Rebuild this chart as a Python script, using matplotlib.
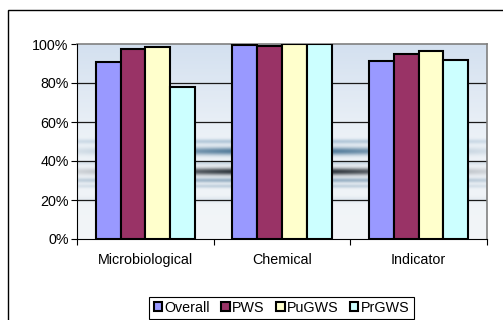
import numpy as np
import matplotlib
matplotlib.use("Agg")
import matplotlib.pyplot as plt
from matplotlib.patches import Patch, Rectangle

plt.rcParams['font.family'] = ['Liberation Sans', 'DejaVu Sans']

categories = ["Microbiological", "Chemical", "Indicator"]
series = ["Overall", "PWS", "PuGWS", "PrGWS"]
overall = [90.8, 99.5, 91.3]
pws = [97.6, 99.0, 94.9]
pugws = [98.5, 99.8, 96.6]
prgws = [77.9, 99.8, 92.0]
colors = ["#9999FF", "#993366", "#FFFFCC", "#CCFFFF"]
yticks = [0, 20, 40, 60, 80, 100]

fig = plt.figure(figsize=(5.03, 3.20), dpi=100)
fig.patch.set_facecolor("white")

# outer chart frame
fig.add_artist(Rectangle((8 / 503, -0.02), 1.1, 1 - 10 / 320 + 0.02,
                         transform=fig.transFigure, fill=False,
                         edgecolor="black", linewidth=1.0))

ax = fig.add_axes([77 / 503, 1 - 239 / 320, 410 / 503, 195 / 320])

# water-ripple backdrop for the plot area
H, W = 200, 420
yy, xx = np.mgrid[0:H, 0:W]
v = 1 - yy / (H - 1)          # 1 at top, 0 at bottom
u = xx / (W - 1)
base_top = np.array([0.83, 0.88, 0.94])
base_mid = np.array([0.93, 0.95, 0.97])
base_bot = np.array([0.95, 0.96, 0.97])
t = np.clip((v - 0.5) / 0.5, 0, 1)[..., None]
b = np.clip(v / 0.5, 0, 1)[..., None]
img = np.where(v[..., None] > 0.5,
               base_mid * (1 - t) + base_top * t,
               base_bot * (1 - b) + base_mid * b)
gx = np.exp(-((u - 0.5) / 0.36) ** 2)
gx2 = np.exp(-((u - 0.5) / 0.6) ** 2)


def band(center, width, strength, color, spread):
    global img
    a = strength * np.exp(-((v - center) / width) ** 2) * spread
    img = img * (1 - a[..., None]) + np.array(color) * a[..., None]


band(0.345, 0.018, 0.95, (0.06, 0.09, 0.12), gx)
band(0.45, 0.02, 0.85, (0.15, 0.35, 0.50), gx)
band(0.50, 0.012, 0.5, (0.45, 0.60, 0.72), gx2)
band(0.30, 0.012, 0.6, (0.35, 0.50, 0.62), gx2)
band(0.27, 0.01, 0.5, (0.55, 0.66, 0.75), gx2)
band(0.39, 0.01, 0.4, (0.55, 0.66, 0.75), gx2)
band(0.20, 0.015, 0.3, (0.70, 0.78, 0.85), gx2)
img = np.clip(img, 0, 1)
ax.imshow(img, extent=[0, 1, 0, 1], transform=ax.transAxes,
          aspect="auto", zorder=0, interpolation="bilinear")

x = np.arange(len(categories))
bw = 0.1816
data = [overall, pws, pugws, prgws]
for i, (vals, col) in enumerate(zip(data, colors)):
    ax.bar(x + (i - 1.5) * bw, vals, width=bw, color=col,
           edgecolor="black", linewidth=1.5, zorder=3)

ax.set_xlim(-0.5, len(categories) - 0.5)
ax.set_ylim(0, 100)
ax.set_yticks(yticks)
ax.set_yticklabels([f"{t}%" for t in yticks])
for t in yticks[1:-1]:
    ax.axhline(t, color="#1a1a1a", linewidth=0.9, zorder=1)

ax.set_xticks(x)
ax.set_xticklabels(categories)
ax.set_xticks(np.arange(-0.5, len(categories)), minor=True)
ax.tick_params(axis="x", which="major", length=0, pad=10, labelsize=10.3)
ax.tick_params(axis="x", which="minor", length=4, width=0.8, direction="out")
ax.tick_params(axis="y", length=4, width=0.8, direction="out", pad=2,
               labelsize=10.3)

for side in ["top", "right"]:
    ax.spines[side].set_color("#808080")
    ax.spines[side].set_linewidth(1.2)
for side in ["left", "bottom"]:
    ax.spines[side].set_color("black")
    ax.spines[side].set_linewidth(0.8)
    ax.spines[side].set_zorder(4)

handles = [Patch(facecolor=c, edgecolor="black", linewidth=1.5) for c in colors]
leg = fig.legend(handles, series, loc="center", ncol=4,
                 bbox_to_anchor=(281.5 / 503, 1 - 308 / 320),
                 frameon=True, fancybox=False, edgecolor="black",
                 framealpha=1, fontsize=10.3, handlelength=0.6,
                 handleheight=0.6, handletextpad=0.15, columnspacing=0.8,
                 borderpad=0.3)
leg.get_frame().set_linewidth(0.8)

fig.savefig("out.png", dpi=100)
